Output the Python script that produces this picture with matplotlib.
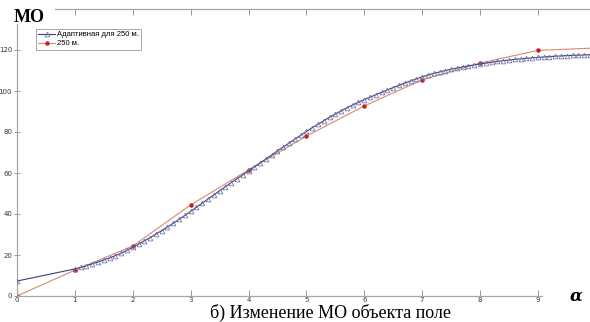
import numpy as np
import matplotlib
matplotlib.use("Agg")
import matplotlib.pyplot as plt
from matplotlib.patches import Rectangle

# red series: values at integer alpha
alpha_red = [0, 1, 2, 3, 4, 5, 6, 7, 8, 9, 10]
mo_red = [0.0, 12.6, 24.4, 44.4, 61.5, 78.0, 92.7, 105.4, 113.6, 119.8, 121.0]

# blue (adaptive) series: first point at 0, then every 0.1 from 1 to 9.9
alpha_blue = [0.0] + list(np.round(np.arange(1.0, 9.95, 0.1), 1))
mo_blue = [7.3,
           13.2, 14.0, 14.8, 15.7, 16.6, 17.6, 18.6, 19.7, 20.9, 22.3,
           23.8, 25.3, 26.9, 28.5, 30.2, 31.9, 33.7, 35.5, 37.4, 39.3,
           41.3, 43.3, 45.3, 47.3, 49.3, 51.3, 53.3, 55.3, 57.2, 59.1,
           61.0, 63.0, 64.9, 66.9, 68.8, 70.8, 72.7, 74.6, 76.5, 78.4,
           80.3, 82.1, 83.8, 85.5, 87.2, 88.8, 90.3, 91.8, 93.2, 94.5,
           95.8, 97.0, 98.2, 99.4, 100.5, 101.7, 102.8, 103.9, 104.9, 105.9,
           106.9, 107.8, 108.6, 109.3, 110.0, 110.6, 111.2, 111.8, 112.3, 112.7,
           113.2, 113.6, 114.0, 114.4, 114.8, 115.1, 115.4, 115.7, 115.9, 116.2,
           116.4, 116.6, 116.8, 117.0, 117.1, 117.3, 117.4, 117.5, 117.6, 117.7]

xticks = [0, 1, 2, 3, 4, 5, 6, 7, 8, 9]
yticks = [0, 20, 40, 60, 80, 100, 120]

fig = plt.figure(figsize=(5.9, 3.22), dpi=100)
ax = fig.add_axes([17/590, 26/322, 573/590, 287/322])

ax.plot(alpha_blue, mo_blue, color="#3c3f7a", lw=0.8, marker="^", ms=3.4,
        mfc="none", mec="#7478a8", mew=0.6, label="Адаптивная для 250 м.", zorder=3)
ax.plot(alpha_red, mo_red, color="#d9896e", lw=0.8, marker="o", ms=2.2,
        mfc="#c02020", mec="#c02020", label="250 м.", zorder=2)

ax.set_xlim(0, 9.9)
ax.set_ylim(0, 140)
ax.set_xticks(xticks)
ax.set_yticks(yticks)
ax.tick_params(axis="x", direction="in", top=True, length=4, width=0.6,
               color="#888888", labelsize=5, labelcolor="#333333", pad=1)
ax.tick_params(axis="y", direction="inout", length=5, width=0.6,
               color="#888888", labelsize=5, labelcolor="#333333", pad=1)
for s in ["left", "bottom", "top"]:
    ax.spines[s].set_color("#a8a8a8")
    ax.spines[s].set_linewidth(0.9)
ax.spines["right"].set_visible(False)
ax.spines["bottom"].set_bounds(0, 9.07)

leg = ax.legend(loc="upper left", bbox_to_anchor=(15/573, 1 - 16/287),
                prop={"family": "Liberation Sans", "size": 5.5},
                handlelength=2.2, borderpad=0.3, labelspacing=0.2,
                handletextpad=0.3, fancybox=False, framealpha=1)
leg.get_frame().set_edgecolor("#999999")
leg.get_frame().set_linewidth(0.6)

# white patch hiding the top-left corner of the frame behind the label
fig.patches.append(Rectangle((0, 1 - 24/322), 55/590, 24/322,
                             transform=fig.transFigure, facecolor="white",
                             edgecolor="none", zorder=5))
fig.text(14/590, 1 - 17/322, "МО", family="Liberation Serif", weight="bold",
         fontsize=13, va="center", ha="left", zorder=6)
fig.text(576/590, 1 - 296/322, "α", family="DejaVu Serif", weight="bold",
         style="italic", fontsize=12, va="center", ha="center")
fig.text(331/590, 1 - 318/322, "б) Изменение МО объекта поле",
         family="Liberation Serif", fontsize=13, va="baseline", ha="center")

fig.savefig("out.png", dpi=100)
